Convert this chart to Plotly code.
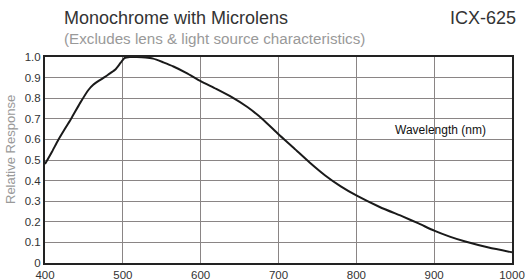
import plotly.graph_objects as go

wavelength = [400, 409, 417, 426, 434, 445, 456, 462, 471, 481, 490, 497, 502, 509,
              518, 529, 539, 552, 565, 582, 600, 620, 640, 660, 680, 700, 720,
              740, 760, 780, 800, 830, 860, 880, 900, 920, 940, 970, 1000]
response = [0.48, 0.54, 0.597, 0.654, 0.703, 0.776, 0.841, 0.865, 0.889, 0.914, 0.938,
            0.971, 0.995, 1.0, 1.0, 0.998, 0.992, 0.974, 0.954, 0.922, 0.883, 0.845,
            0.805, 0.757, 0.697, 0.625, 0.557, 0.488, 0.425, 0.372, 0.328, 0.272,
            0.225, 0.192, 0.157, 0.128, 0.104, 0.075, 0.052]

x_ticks = [400, 500, 600, 700, 800, 900, 1000]
y_ticks = [0, 0.1, 0.2, 0.3, 0.4, 0.5, 0.6, 0.7, 0.8, 0.9, 1.0]
y_labels = ["0", "0.1", "0.2", "0.3", "0.4", "0.5", "0.6", "0.7", "0.8", "0.9", "1.0"]

font = "Liberation Sans, Arial, sans-serif"
W, H = 527, 280
L, R, T, B = 45, 15, 57, 17
PW, PH = W - L - R, H - T - B


def px(x):
    return (x - L) / PW


def py(y):
    return 1 + (T - y) / PH


fig = go.Figure()
fig.add_trace(go.Scatter(
    x=wavelength, y=response, mode="lines",
    line=dict(color="#1a1a1a", width=2, shape="spline", smoothing=0.6),
    hoverinfo="skip", showlegend=False,
))

fig.update_layout(
    width=W, height=H,
    margin=dict(l=L, r=R, t=T, b=B),
    paper_bgcolor="white", plot_bgcolor="white",
    font=dict(family=font, color="#333333", size=12),
    xaxis=dict(range=[400, 1000], tickvals=x_ticks, ticks="", showgrid=True,
               gridcolor="#8a8585", gridwidth=1, zeroline=False,
               showline=True, linecolor="#222222", linewidth=2, mirror=True,
               tickfont=dict(size=11.5, color="#333333"), automargin=False),
    yaxis=dict(range=[0, 1.0], tickvals=y_ticks, ticktext=y_labels, ticks="",
               showgrid=True, gridcolor="#8a8585", gridwidth=1, zeroline=False,
               showline=True, linecolor="#222222", linewidth=2, mirror=True,
               tickfont=dict(size=11.5, color="#333333"), automargin=False),
    annotations=[
        dict(text="Monochrome with Microlens", x=px(62), y=py(18), xref="paper", yref="paper",
             showarrow=False, xanchor="left", yanchor="middle",
             font=dict(size=18, color="#333333")),
        dict(text="(Excludes lens & light source characteristics)", x=px(62), y=py(38),
             xref="paper", yref="paper",
             showarrow=False, xanchor="left", yanchor="middle",
             font=dict(size=15.2, color="#999999")),
        dict(text="ICX-625", x=px(518), y=py(18), xref="paper", yref="paper",
             showarrow=False, xanchor="right",
             yanchor="middle", font=dict(size=18, color="#333333")),
        dict(text="Wavelength (nm)", x=px(440), y=py(130), xref="paper", yref="paper",
             showarrow=False, xanchor="center", yanchor="middle",
             font=dict(size=12, color="#111111")),
        dict(text="Relative Response", x=px(10), y=py(150), xref="paper", yref="paper",
             showarrow=False, xanchor="center", yanchor="middle", textangle=-90,
             font=dict(size=13, color="#999999")),
    ],
)

fig.write_html("out.html", config={"displayModeBar": False},
               post_script="document.body.style.margin='0';document.body.style.overflow='hidden';")
